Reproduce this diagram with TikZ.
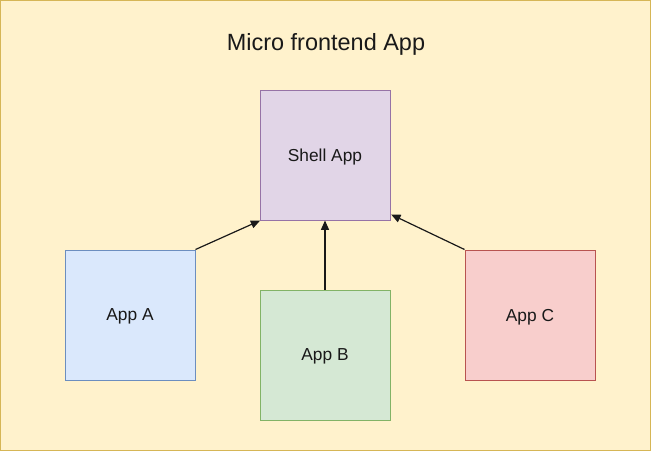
\documentclass[tikz,border=0pt]{standalone}
\usepackage{fontspec}
\setmainfont{Liberation Sans}
\usetikzlibrary{arrows.meta}
\definecolor{bgfill}{HTML}{FFF2CC}
\definecolor{bgline}{HTML}{D6B656}
\definecolor{pfill}{HTML}{E1D5E7}
\definecolor{pline}{HTML}{9673A6}
\definecolor{bfill}{HTML}{DAE8FC}
\definecolor{bline}{HTML}{6C8EBF}
\definecolor{gfill}{HTML}{D5E8D4}
\definecolor{gline}{HTML}{82B366}
\definecolor{rfill}{HTML}{F8CECC}
\definecolor{rline}{HTML}{B85450}
\tikzset{
  appbox/.style={draw, line width=0.75pt, minimum width=97.5pt, minimum height=97.5pt, inner sep=0pt, text depth=0pt, font=\fontsize{13}{15}\selectfont, text=black!90},
  conn/.style={-{Triangle[length=7pt,width=6pt]}, line width=0.9pt, black!90}
}
\begin{document}
\begin{tikzpicture}[x=0.75pt,y=-0.75pt]
\useasboundingbox (0,0) rectangle (651,451);
\draw[fill=bgfill, draw=bgline, line width=1pt] (0.6,0.6) rectangle (650.4,450.4);
\node[font=\fontsize{17.6}{20}\selectfont, text=black!90, text depth=0pt] (title) at (326,42) {Micro frontend App};
\node[appbox, fill=pfill, draw=pline] (shell) at (325,155) {Shell App};
\node[appbox, fill=bfill, draw=bline] (a) at (130,315) {App A};
\node[appbox, fill=gfill, draw=gline] (b) at (325,355) {App B};
\node[appbox, fill=rfill, draw=rline] (c) at (530,315) {App C};
\draw[conn] (a.north east) -- ([xshift=0.5pt]shell.south west);
\draw[conn] (b.north) -- (shell.south);
\draw[conn] (c.north west) -- ([yshift=4.5pt,xshift=0.5pt]shell.south east);
\end{tikzpicture}
\end{document}
